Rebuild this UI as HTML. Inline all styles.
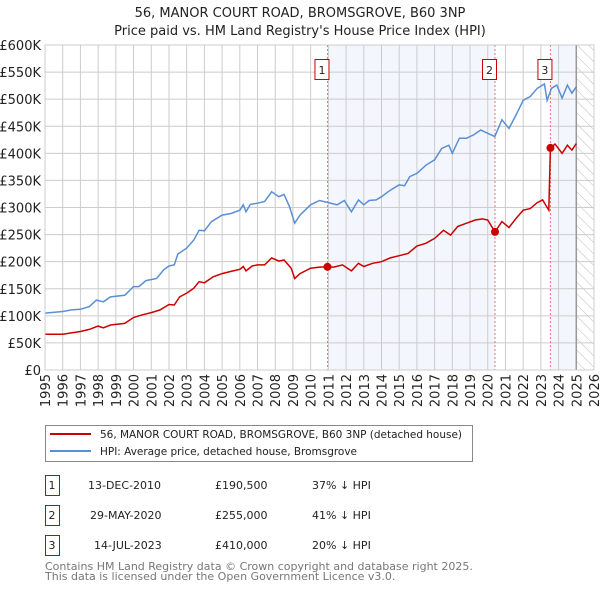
<!DOCTYPE html>
<html><head><meta charset="utf-8"><style>
body{margin:0;background:#fff;font-family:"Liberation Sans","DejaVu Sans",sans-serif;}
svg text{font-family:"DejaVu Sans","Liberation Sans",sans-serif;}
</style></head><body>
<svg id="chart" width="600" height="590" xmlns="http://www.w3.org/2000/svg">
<defs><pattern id="hatch" width="8" height="8" patternUnits="userSpaceOnUse" patternTransform="rotate(-45)"><line x1="0" y1="0" x2="0" y2="8" stroke="#bbb" stroke-width="1"/></pattern></defs>
<text x="300" y="17" font-size="13" text-anchor="middle" fill="#222">56, MANOR COURT ROAD, BROMSGROVE, B60 3NP</text>
<text x="300" y="35" font-size="13" text-anchor="middle" fill="#222">Price paid vs. HM Land Registry's House Price Index (HPI)</text>
<g id="plot"></g>
<g>
<rect x="45.5" y="425.5" width="427" height="36" fill="#fff" stroke="#888"/>
<line x1="50" y1="434" x2="91" y2="434" stroke="#cc0000" stroke-width="2"/>
<text x="100" y="438" font-size="10.5" fill="#222" textLength="362">56, MANOR COURT ROAD, BROMSGROVE, B60 3NP (detached house)</text>
<line x1="50" y1="451" x2="91" y2="451" stroke="#5b8fd4" stroke-width="2"/>
<text x="100" y="455" font-size="10.5" fill="#222" textLength="257">HPI: Average price, detached house, Bromsgrove</text>
</g>
<g font-size="11" fill="#222">
<rect x="45.5" y="475.5" width="14" height="20" fill="#fff" stroke="#cc0000"/><text x="52" y="489" text-anchor="middle">1</text>
<text x="88" y="489">13-DEC-2010</text><text x="215" y="489">£190,500</text><text x="312" y="489">37% ↓ HPI</text>
<rect x="45.5" y="505.5" width="14" height="20" fill="#fff" stroke="#cc0000"/><text x="52" y="519" text-anchor="middle">2</text>
<text x="90" y="519">29-MAY-2020</text><text x="215" y="519">£255,000</text><text x="312" y="519">41% ↓ HPI</text>
<rect x="45.5" y="535.5" width="14" height="20" fill="#fff" stroke="#cc0000"/><text x="52" y="549" text-anchor="middle">3</text>
<text x="94" y="549">14-JUL-2023</text><text x="215" y="549">£410,000</text><text x="312" y="549">20% ↓ HPI</text>
</g>
<text x="45" y="570" font-size="11" fill="#777">Contains HM Land Registry data © Crown copyright and database right 2025.</text>
<text x="45" y="580" font-size="11" fill="#777">This data is licensed under the Open Government Licence v3.0.</text>
</svg>
<script>
const yTicks=[0,50,100,150,200,250,300,350,400,450,500,550,600];
const yTickLabels=["£0","£50K","£100K","£150K","£200K","£250K","£300K","£350K","£400K","£450K","£500K","£550K","£600K"];
const xYears=[1995,1996,1997,1998,1999,2000,2001,2002,2003,2004,2005,2006,2007,2008,2009,2010,2011,2012,2013,2014,2015,2016,2017,2018,2019,2020,2021,2022,2023,2024,2025,2026];
const hpiT=[1995,1996,1996.5,1997,1997.5,1997.9,1998.3,1998.7,1999.5,2000,2000.3,2000.7,2001.3,2001.7,2002,2002.3,2002.5,2003,2003.4,2003.7,2004,2004.4,2005,2005.5,2006,2006.2,2006.35,2006.6,2007,2007.4,2007.8,2008.2,2008.5,2008.8,2009.1,2009.4,2010,2010.5,2011,2011.5,2011.9,2012.3,2012.7,2013,2013.3,2013.7,2014,2014.5,2015,2015.3,2015.6,2016,2016.5,2017,2017.4,2017.8,2018,2018.4,2018.8,2019.2,2019.6,2020,2020.4,2020.8,2021.2,2021.6,2022,2022.4,2022.8,2023.2,2023.35,2023.6,2023.9,2024.2,2024.5,2024.75,2025];
const hpiV=[105,108,111,112,117,129,126,135,138,154,154,165,169,185,192,194,214,225,240,258,257,274,286,289,295,305,292,306,308,311,329,320,324,302,271,286,305,313,309,305,313,292,314,305,313,314,320,332,342,340,357,363,378,388,409,415,400,428,428,434,443,437,431,462,446,471,498,505,520,528,498,520,526,502,526,511,523];
const priceT=[1995,1996,1997,1997.5,1998,1998.3,1998.7,1999.5,2000,2000.5,2001,2001.5,2002,2002.3,2002.6,2003,2003.4,2003.7,2004,2004.5,2005,2005.5,2006,2006.2,2006.35,2006.7,2007,2007.4,2007.8,2008.2,2008.5,2008.9,2009.1,2009.4,2010,2010.5,2010.95,2011.3,2011.8,2012.3,2012.7,2013,2013.5,2014,2014.5,2015,2015.5,2016,2016.5,2017,2017.5,2017.9,2018.3,2018.8,2019.3,2019.7,2020,2020.41,2020.8,2021.2,2021.6,2022,2022.4,2022.8,2023.1,2023.45,2023.54,2023.8,2024.2,2024.5,2024.75,2025];
const priceV=[66,66,71,75,81,78,83,86,97,102,106,111,121,120,135,142,151,163,161,172,178,182,186,191,183,192,194,194,207,201,203,188,169,178,188,190,190.5,190,194,183,197,191,197,200,207,211,215,229,234,243,258,249,265,271,277,279,277,255,274,263,280,295,298,309,314,295,410,417,400,415,406,418];
const saleT=[2010.95,2020.41,2023.54];
const saleV=[190.5,255,410];
const saleLabels=["1","2","3"];
const X0=45,X1=594,Y0=370,Y1=45;
const xs=t=>X0+(t-1995)/(2026-1995)*(X1-X0);
const ys=v=>Y0-v/600*(Y0-Y1);
const NS="http://www.w3.org/2000/svg";
const g=document.getElementById('plot');
function mk(tag,attrs,parent){const e=document.createElementNS(NS,tag);for(const k in attrs)e.setAttribute(k,attrs[k]);(parent||g).appendChild(e);return e;}
let s=mk('rect',{x:xs(saleT[0]),y:Y1,width:xs(saleT[1])-xs(saleT[0]),height:Y0-Y1,fill:'#f3f6fd'});


s=mk('rect',{x:xs(saleT[2]),y:Y1,width:xs(2025.0)-xs(saleT[2]),height:Y0-Y1,fill:'#f3f6fd'});


s=mk('rect',{x:xs(2025.0),y:Y1,width:X1-xs(2025.0),height:Y0-Y1,fill:'url(#hatch)'});


yTicks.forEach((v,i)=>{
 const l=mk('line',{x1:X0,x2:X1,y1:ys(v),y2:ys(v),stroke:'#ccc','stroke-width':1});
 
 
 const t=mk('text',{x:X0-4,y:ys(v)+5,'font-size':13,'text-anchor':'end',fill:'#222'});
 
 
 t.textContent=yTickLabels[i];
});
xYears.forEach(yr=>{
 const l=mk('line',{x1:xs(yr),x2:xs(yr),y1:Y1,y2:Y0,stroke:'#ccc','stroke-width':1});
 
 
 const t=mk('text',{x:0,y:0,'font-size':13,'text-anchor':'end',fill:'#222',transform:`translate(${xs(yr)+5},374) rotate(-90)`});
 
 
 t.textContent=yr;
});
let b=mk('line',{x1:xs(2025.0),x2:xs(2025.0),y1:Y1,y2:Y0,stroke:'#999','stroke-width':1.5});


saleT.forEach(t=>{
 const l=mk('line',{x1:xs(t),x2:xs(t),y1:Y1,y2:Y0,stroke:'#f07070','stroke-width':1,'stroke-dasharray':'2,2'});
 
 
});
function pts(T,V){return T.map((t,i)=>xs(t).toFixed(1)+','+ys(V[i]).toFixed(1)).join(' ');}
let p=mk('polyline',{points:pts(hpiT,hpiV),fill:'none',stroke:'#5b8fd4','stroke-width':1.5});


p=mk('polyline',{points:pts(priceT,priceV),fill:'none',stroke:'#cc0000','stroke-width':1.5});


saleT.forEach((t,i)=>{
 const c=mk('circle',{cx:xs(t),cy:ys(saleV[i]),r:4,fill:'#cc0000'});
 
 
 const r=mk('rect',{x:xs(t)-12.5,y:59.5,width:14,height:20,fill:'#fff',stroke:'#cc0000'});
 
 
 const tx=mk('text',{x:xs(t)-5.5,y:74,'font-size':11,'text-anchor':'middle',fill:'#222'});
 
 
 tx.textContent=saleLabels[i];
});
let fr=mk('rect',{x:X0,y:Y1,width:X1-X0,height:Y0-Y1,fill:'none',stroke:'#ccc'});


</script>
</body></html>
